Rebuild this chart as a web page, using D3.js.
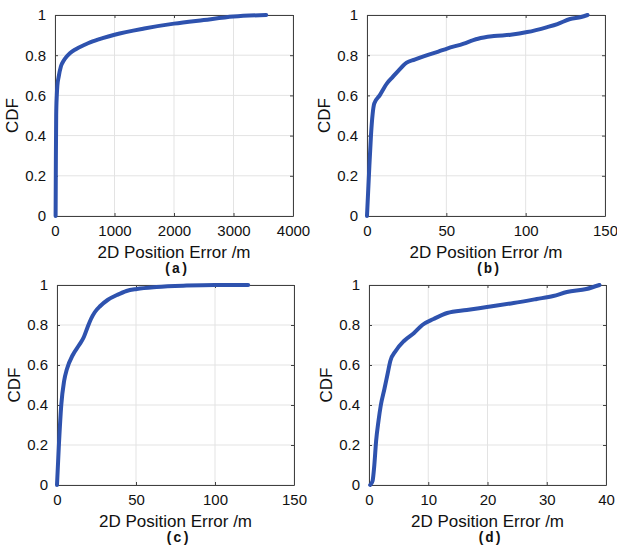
<!DOCTYPE html>
<html>
<head>
<meta charset="utf-8">
<script src="https://cdn.jsdelivr.net/npm/d3@7"></script>
<style>
  body { margin: 0; background: #fff; }
  svg { display: block; }
</style>
</head>
<body>
<div id="chart"></div>
<script>
// CDF curves: [error (m), CDF]
const errA = [10, 15, 20, 30, 40, 60, 100, 150, 200, 250, 350, 500, 600, 800, 1000, 1500, 2000, 2500, 3000, 3550];
const cdfA = [0, 0.3, 0.5, 0.6, 0.65, 0.69, 0.745, 0.775, 0.795, 0.81, 0.83, 0.852, 0.865, 0.885, 0.902, 0.933, 0.957, 0.975, 0.992, 1.0];

const errB = [0, 1.5, 2.5, 4.6, 8, 12.6, 16, 20, 25, 30, 38, 45, 50.5, 61, 67, 70, 80, 90.5, 101, 113.6, 120, 128, 135, 139];
const cdfB = [0, 0.25, 0.4, 0.56, 0.6, 0.66, 0.69, 0.725, 0.763, 0.778, 0.80, 0.818, 0.833, 0.858, 0.875, 0.882, 0.895, 0.902, 0.915, 0.94, 0.955, 0.98, 0.99, 1.0];

const errC = [0, 1.2, 2.7, 4.5, 6.3, 10, 14, 17, 19.4, 21.5, 24, 27.4, 32, 38, 44, 50.5, 63, 82, 100, 121];
const cdfC = [0, 0.2, 0.4, 0.52, 0.58, 0.65, 0.7, 0.74, 0.79, 0.83, 0.865, 0.895, 0.925, 0.95, 0.97, 0.98, 0.99, 0.997, 1.0, 1.0];

const errD = [0.2, 0.6, 0.9, 1.2, 1.6, 2.0, 2.6, 3.1, 3.6, 4.5, 5.9, 7.6, 9.0, 10.9, 13.2, 16.5, 19.9, 24.4, 28.3, 31.1, 33.4, 36.7, 38.9];
const cdfD = [0, 0.02, 0.1, 0.22, 0.32, 0.4, 0.48, 0.55, 0.62, 0.67, 0.72, 0.76, 0.8, 0.83, 0.86, 0.875, 0.89, 0.91, 0.93, 0.945, 0.965, 0.98, 1.0];

const yTicks = [0, 0.2, 0.4, 0.6, 0.8, 1];
const xTicksA = [0, 1000, 2000, 3000, 4000];
const xTicksB = [0, 50, 100, 150];
const xTicksC = [0, 50, 100, 150];
const xTicksD = [0, 10, 20, 30, 40];

const panels = [
  {err: errA, cdf: cdfA, ticks: xTicksA, caption: "(a)", box: {x0: 55, x1: 293, y0: 15, y1: 216}},
  {err: errB, cdf: cdfB, ticks: xTicksB, caption: "(b)", box: {x0: 367, x1: 605, y0: 15, y1: 216}},
  {err: errC, cdf: cdfC, ticks: xTicksC, caption: "(c)", box: {x0: 57, x1: 294, y0: 285, y1: 485}},
  {err: errD, cdf: cdfD, ticks: xTicksD, caption: "(d)", box: {x0: 369, x1: 606, y0: 285, y1: 485}}
];

const lineColor = "#2e52ae";
const axisColor = "#404040";
const gridColor = "#e3e3e3";
const font = "Liberation Sans, Arial, sans-serif";

const svg = d3.select("#chart").append("svg")
    .attr("width", 617)
    .attr("height", 549);

panels.forEach(function(p) {
    const b = p.box;
    const w = b.x1 - b.x0;
    const h = b.y1 - b.y0;

    let x = d3.scaleLinear()
        .domain([p.ticks[0], p.ticks[p.ticks.length - 1]])
        .range([0, w]);
    let y = d3.scaleLinear()
        .domain([0, 1])
        .range([h, 0]);

    const g = svg.append("g")
        .attr("transform", "translate(" + b.x0 + "," + b.y0 + ")");

    // grid
    g.append("g")
        .selectAll("line")
        .data(p.ticks)
        .enter().append("line")
        .attr("x1", d => x(d)).attr("x2", d => x(d))
        .attr("y1", 0).attr("y2", h)
        .attr("stroke", gridColor);
    g.append("g")
        .selectAll("line")
        .data(yTicks)
        .enter().append("line")
        .attr("y1", d => y(d)).attr("y2", d => y(d))
        .attr("x1", 0).attr("x2", w)
        .attr("stroke", gridColor);

    // axes, ticks pointing inward like matlab
    g.append("g")
        .attr("transform", "translate(0," + h + ")")
        .call(d3.axisBottom(x).tickValues(p.ticks).tickFormat(d3.format("d")).tickSizeInner(-3).tickSizeOuter(0).tickPadding(9));
    g.append("g")
        .call(d3.axisLeft(y).tickValues(yTicks).tickFormat(d3.format("~g")).tickSizeInner(-3).tickSizeOuter(0).tickPadding(9));
    g.append("g")
        .call(d3.axisTop(x).tickValues(p.ticks).tickFormat("").tickSizeInner(-3).tickSizeOuter(0));
    g.append("g")
        .attr("transform", "translate(" + w + ",0)")
        .call(d3.axisRight(y).tickValues(yTicks).tickFormat("").tickSizeInner(-3).tickSizeOuter(0));

    g.selectAll(".domain, .tick line").attr("stroke", axisColor);
    g.selectAll(".tick text")
        .attr("fill", "#111")
        .style("font-family", font)
        .style("font-size", "15px");

    // the curve
    const pts = p.err.map((e, i) => [e, p.cdf[i]]);
    g.append("path")
        .datum(pts)
        .attr("fill", "none")
        .attr("stroke", lineColor)
        .attr("stroke-width", 4)
        .attr("stroke-linejoin", "round")
        .attr("stroke-linecap", "round")
        .attr("d", d3.line().x(d => x(d[0])).y(d => y(d[1])).curve(d3.curveMonotoneX));

    // labels
    g.append("text")
        .attr("transform", `translate(-37,${h / 2})rotate(-90)`)
        .attr("text-anchor", "middle")
        .style("font-family", font)
        .style("font-size", "17px")
        .attr("fill", "#111")
        .text("CDF");

    g.append("text")
        .attr("x", w / 2)
        .attr("y", h + 42)
        .attr("text-anchor", "middle")
        .style("font-family", font)
        .style("font-size", "17px")
        .attr("fill", "#111")
        .text("2D Position Error /m");

    g.append("text")
        .attr("x", w / 2 + 2)
        .attr("y", h + 57)
        .attr("text-anchor", "middle")
        .style("font-family", "Liberation Mono, Courier New, monospace")
        .style("font-size", "14px")
        .style("font-weight", "bold")
        .attr("fill", "#111")
        .text(p.caption);
});
</script>
</body>
</html>
